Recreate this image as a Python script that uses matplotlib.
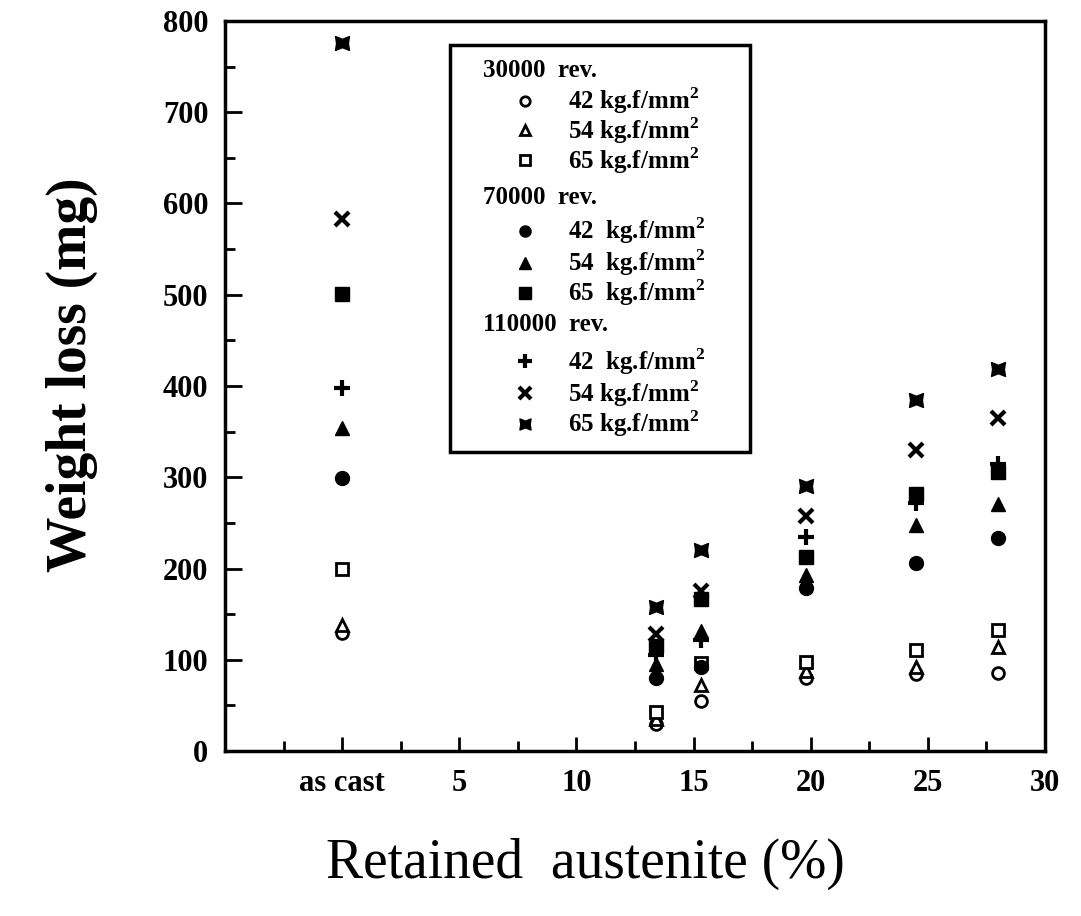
import numpy as np
import matplotlib
matplotlib.use("Agg")
import matplotlib.pyplot as plt
from matplotlib.path import Path
from matplotlib.ticker import MultipleLocator, FixedLocator, FixedFormatter

plt.rcParams['font.family'] = ['Liberation Serif', 'DejaVu Serif']
plt.rcParams['mathtext.fontset'] = 'custom'
plt.rcParams['mathtext.rm'] = 'Liberation Serif:bold'
plt.rcParams['mathtext.bf'] = 'Liberation Serif:bold'

# retained austenite (%) ; 0 = as cast
austenite = [0, 13.4, 15.3, 19.8, 24.5, 28.0]

# weight loss (mg)
w30_42 = [129, 30, 55, 80, 84, 85]
w30_54 = [138, 35, 72, 88, 92, 114]
w30_65 = [200, 43, 97, 98, 111, 133]
w70_42 = [299, 80, 92, 179, 206, 233]
w70_54 = [354, 95, 132, 193, 248, 271]
w70_65 = [501, 115, 167, 213, 282, 306]
w110_42 = [398, 105, 122, 234, 272, 315]
w110_54 = [583, 128, 175, 257, 330, 365]
w110_65 = [776, 158, 220, 290, 385, 419]

xtick_pos = [0, 5, 10, 15, 20, 25, 30]
xtick_lab = ['as cast', '5', '10', '15', '20', '25', '30']

# filled bow-tie marker for 65 kg.f/mm2 at 110000 rev.
bowtie = Path([(-1, -1), (0, -0.6), (1, -1), (0.85, 0), (1, 1), (0, 0.6), (-1, 1), (-0.85, 0), (-1, -1)],
              [Path.MOVETO] + [Path.LINETO] * 7 + [Path.CLOSEPOLY])

open_kw = dict(mfc='white', mec='black', mew=2.0, ms=8.5)
fill_kw = dict(mfc='black', mec='black', mew=1.0, ms=10)

series = [
    ('30000  rev.', None, None, None),
    ('42 kg.f/mm$^{2}$', w30_42, 'o', open_kw),
    ('54 kg.f/mm$^{2}$', w30_54, '^', open_kw),
    ('65 kg.f/mm$^{2}$', w30_65, 's', open_kw),
    ('70000  rev.', None, None, None),
    ('42  kg.f/mm$^{2}$', w70_42, 'o', fill_kw),
    ('54  kg.f/mm$^{2}$', w70_54, '^', fill_kw),
    ('65  kg.f/mm$^{2}$', w70_65, 's', fill_kw),
    ('110000  rev.', None, None, None),
    ('42  kg.f/mm$^{2}$', w110_42, '+', dict(mec='black', mew=3.0, ms=12)),
    ('54 kg.f/mm$^{2}$', w110_54, 'x', dict(mec='black', mew=3.0, ms=10)),
    ('65 kg.f/mm$^{2}$', w110_65, bowtie, dict(mfc='black', mec='black', mew=1.0, ms=10)),
]

fig = plt.figure(figsize=(10.81, 9.16), dpi=100)
ax = fig.add_axes([0.2081, 0.1801, 0.7586, 0.797])

for label, vals, mk, kw in series:
    if vals is None:
        continue
    ax.plot(austenite, vals, linestyle='none', marker=mk, zorder=3, **kw)

ax.set_xlim(-5, 30)
ax.set_ylim(0, 800)

for s in ax.spines.values():
    s.set_linewidth(2.5)

ax.xaxis.set_major_locator(FixedLocator(xtick_pos))
ax.xaxis.set_major_formatter(FixedFormatter(xtick_lab))
ax.xaxis.set_minor_locator(MultipleLocator(2.5))
ax.yaxis.set_major_locator(MultipleLocator(100))
ax.yaxis.set_minor_locator(MultipleLocator(50))
ax.tick_params(which='both', direction='in', width=2, top=False, right=False)
ax.tick_params(which='major', length=12)
ax.tick_params(which='minor', length=7)
ax.tick_params(axis='x', which='major', length=10, pad=13)
ax.tick_params(axis='y', which='major', pad=12)
for t in ax.get_xticklabels() + ax.get_yticklabels():
    t.set_fontsize(22)
    t.set_fontweight('bold')

ax.set_ylabel('Weight loss (mg)', fontsize=40, fontweight='bold')
ax.yaxis.set_label_coords(-0.155, 0.515)
ax.set_xlabel('Retained  austenite (%)', fontsize=40)
ax.xaxis.set_label_coords(0.439, -0.119)

# hand-made legend box
ax.add_patch(plt.Rectangle((0.2744, 0.4096), 0.3658, 0.5574, transform=ax.transAxes,
                           fill=False, lw=2.5, ec='black', zorder=4))
row_y = [0.932, 0.891, 0.850, 0.809, 0.758, 0.713, 0.669, 0.628, 0.584, 0.534, 0.490, 0.448]
for (label, vals, mk, kw), yy in zip(series, row_y):
    if vals is None:
        ax.text(0.3146, yy, label, transform=ax.transAxes, fontsize=18,
                fontweight='bold', ha='left', va='center')
    else:
        lkw = dict(kw)
        lkw['ms'] = lkw['ms'] * 0.8
        ax.plot([0.3659], [yy], transform=ax.transAxes, linestyle='none',
                marker=mk, clip_on=False, zorder=5, **lkw)
        ax.text(0.4183, yy, label, transform=ax.transAxes, fontsize=18,
                fontweight='bold', ha='left', va='center')

fig.savefig('out.png', dpi=100)
